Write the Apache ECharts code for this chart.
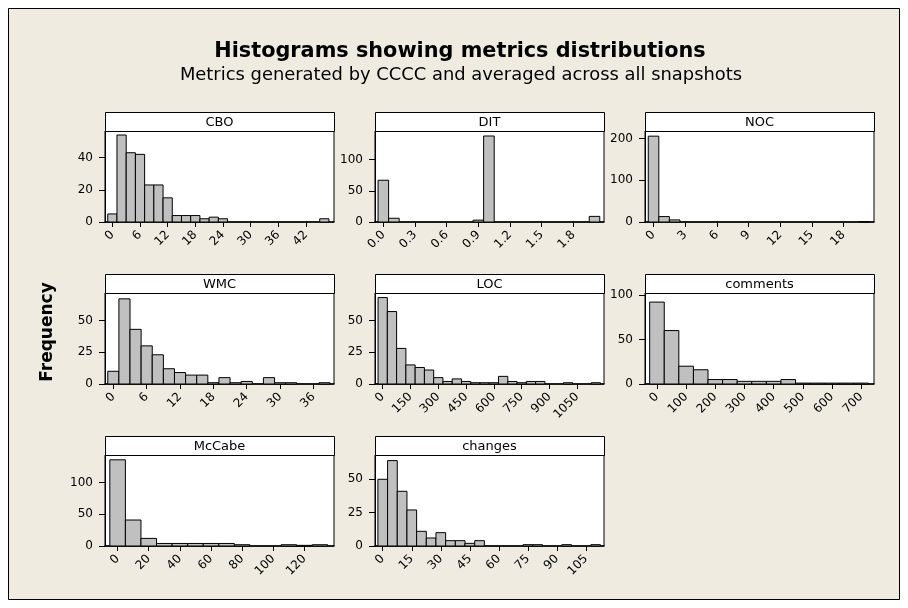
<!DOCTYPE html>
<html><head><meta charset="utf-8">
<script src="https://cdn.jsdelivr.net/npm/echarts@6/dist/echarts.min.js"></script>
<style>html,body{margin:0;padding:0;background:#fff}#c{width:908px;height:608px}</style>
</head><body><div id="c"></div>
<script>
const chartTitle = 'Histograms showing metrics distributions';
const chartSubtitle = 'Metrics generated by CCCC and averaged across all snapshots';
const yAxisTitle = 'Frequency';
const panelNames = ['CBO','DIT','NOC','WMC','LOC','comments','McCabe','changes'];

const cboBins = [0,2,4,6,8,10,12,14,16,18,20,22,24,26,28,30,32,34,36,38,40,42,44,46];
const cboCounts = [5,54,43,42,23,23,15,4,4,4,2,3,2,0,0,0,0,0,0,0,0,0,0,2];
const cboTicks = [0,6,12,18,24,30,36,42];
const cboTickLabels = ['0','6','12','18','24','30','36','42'];
const cboYTicks = [0,20,40];

const ditBins = [0.0,0.1,0.2,0.3,0.4,0.5,0.6,0.7,0.8,0.9,1.0,1.1,1.2,1.3,1.4,1.5,1.6,1.7,1.8,1.9,2.0];
const ditCounts = [67,6,0,0,0,0,0,0,0,3,138,0,0,0,0,0,0,0,0,0,9];
const ditTicks = [0.0,0.3,0.6,0.9,1.2,1.5,1.8];
const ditTickLabels = ['0.0','0.3','0.6','0.9','1.2','1.5','1.8'];
const ditYTicks = [0,50,100];

const nocBins = [0,1,2,3,4,5,6,7,8,9,10,11,12,13,14,15,16,17,18,19,20];
const nocCounts = [206,13,5,0,0,0,0,0,0,0,0,0,0,0,0,0,0,0,0,0,1];
const nocTicks = [0,3,6,9,12,15,18];
const nocTickLabels = ['0','3','6','9','12','15','18'];
const nocYTicks = [0,100,200];

const wmcBins = [0,2,4,6,8,10,12,14,16,18,20,22,24,26,28,30,32,34,36,38];
const wmcCounts = [10,67,43,30,23,12,9,7,7,1,5,1,2,0,5,1,1,0,0,1];
const wmcTicks = [0,6,12,18,24,30,36];
const wmcTickLabels = ['0','6','12','18','24','30','36'];
const wmcYTicks = [0,25,50];

const locBins = [0,50,100,150,200,250,300,350,400,450,500,550,600,650,700,750,800,850,900,950,1000,1050,1100,1150];
const locCounts = [68,57,28,15,13,11,5,2,4,2,1,1,1,6,2,1,2,2,0,0,1,0,0,1];
const locTicks = [0,150,300,450,600,750,900,1050];
const locTickLabels = ['0','150','300','450','600','750','900','1050'];
const locYTicks = [0,25,50];

const comBins = [0,50,100,150,200,250,300,350,400,450,500,550,600,650,700];
const comCounts = [92,60,20,16,5,5,3,3,3,5,1,1,1,1,1];
const comTicks = [0,100,200,300,400,500,600,700];
const comTickLabels = ['0','100','200','300','400','500','600','700'];
const comYTicks = [0,50,100];

const mccBins = [0,10,20,30,40,50,60,70,80,90,100,110,120,130];
const mccCounts = [136,41,12,4,4,4,4,4,2,0,0,2,1,2];
const mccTicks = [0,20,40,60,80,100,120];
const mccTickLabels = ['0','20','40','60','80','100','120'];
const mccYTicks = [0,50,100];

const chgBins = [0,5,10,15,20,25,30,35,40,45,50,55,60,65,70,75,80,85,90,95,100,105,110];
const chgCounts = [50,64,41,27,11,6,10,4,4,2,4,0,0,0,0,1,1,0,0,1,0,0,1];
const chgTicks = [0,15,30,45,60,75,90,105];
const chgTickLabels = ['0','15','30','45','60','75','90','105'];
const chgYTicks = [0,25,50];

const FONT = 'DejaVu Sans';
const panels = [
  {bins:cboBins, counts:cboCounts, bw:2,   xr:[-1.6,48.1],  ymax:56.5,  ticks:cboTicks, labels:cboTickLabels, yticks:cboYTicks},
  {bins:ditBins, counts:ditCounts, bw:0.1, xr:[-0.079,2.09],ymax:146,   ticks:ditTicks, labels:ditTickLabels, yticks:ditYTicks},
  {bins:nocBins, counts:nocCounts, bw:1,   xr:[-0.81,20.9], ymax:218.4, ticks:nocTicks, labels:nocTickLabels, yticks:nocYTicks},
  {bins:wmcBins, counts:wmcCounts, bw:2,   xr:[-1.5,39.7],  ymax:71.6,  ticks:wmcTicks, labels:wmcTickLabels, yticks:wmcYTicks},
  {bins:locBins, counts:locCounts, bw:50,  xr:[-41.6,1194], ymax:71.6,  ticks:locTicks, labels:locTickLabels, yticks:locYTicks},
  {bins:comBins, counts:comCounts, bw:50,  xr:[-41,744],    ymax:102.2, ticks:comTicks, labels:comTickLabels, yticks:comYTicks},
  {bins:mccBins, counts:mccCounts, bw:10,  xr:[-8.1,139],   ymax:143.6, ticks:mccTicks, labels:mccTickLabels, yticks:mccYTicks},
  {bins:chgBins, counts:chgCounts, bw:5,   xr:[-4,114.3],   ymax:68.2,  ticks:chgTicks, labels:chgTickLabels, yticks:chgYTicks}
];

const colLeft = [105, 375, 645];
const rowTop = [112, 274, 436];
const PW = 229, HH = 19, PH = 91;

const grids = [], xAxes = [], yAxes = [], series = [];
const graphics = [
  {type:'rect', z:-10, silent:true, shape:{x:8.5, y:8.5, width:891, height:591}, style:{fill:'#efebe0', stroke:'#000', lineWidth:1}},
  {type:'text', z:10, style:{text:chartTitle, x:460, y:52, align:'center', verticalAlign:'middle', font:'bold 20.8px "DejaVu Sans"', fill:'#000'}},
  {type:'text', z:10, style:{text:chartSubtitle, x:461, y:75, align:'center', verticalAlign:'middle', font:'17.9px "DejaVu Sans"', fill:'#000'}},
  {type:'text', z:10, rotation:Math.PI/2, x:48, y:332, style:{text:yAxisTitle, x:0, y:0, align:'center', verticalAlign:'middle', font:'bold 17px "DejaVu Sans"', fill:'#000'}}
];

function nearestLabel(ticks, labels, v){
  let bi = 0, bd = Infinity;
  ticks.forEach((t,i)=>{ const d = Math.abs(t - v); if (d < bd){ bd = d; bi = i; } });
  return labels[bi];
}

function makeRender(bw){
  return function(params, api){
    const c = api.value(0), n = api.value(1);
    if (!n) return null;
    const p0 = api.coord([c - bw/2, n]);
    const p1 = api.coord([c + bw/2, 0]);
    return {type:'rect', shape:{x:p0[0], y:p0[1], width:p1[0]-p0[0], height:p1[1]-p0[1]},
            style:{fill:'#c0c0c0', stroke:'#000', lineWidth:1}};
  };
}

panels.forEach((p, i) => {
  const col = i % 3, row = Math.floor(i / 3);
  const left = colLeft[col], top = rowTop[row];
  grids.push({left:left, top:top + HH, width:PW, height:PH, show:true, backgroundColor:'#fff',
              borderColor:'#000', borderWidth:1, containLabel:false, outerBoundsMode:'none'});
  xAxes.push({type:'value', gridIndex:i, min:p.xr[0], max:p.xr[1],
    axisLine:{show:true, onZero:false, lineStyle:{color:'#000', width:1.5}},
    axisTick:{show:true, inside:false, length:5, lineStyle:{color:'#000', width:1}, customValues:p.ticks},
    axisLabel:{show:true, rotate:45, margin:11, fontSize:12, fontFamily:FONT, color:'#000',
      customValues:p.ticks, formatter:(v)=>nearestLabel(p.ticks, p.labels, v)},
    splitLine:{show:false}});
  yAxes.push({type:'value', gridIndex:i, min:0, max:p.ymax,
    axisLine:{show:true, onZero:false, lineStyle:{color:'#000', width:1}},
    axisTick:{show:true, inside:false, length:6, lineStyle:{color:'#000', width:1}, customValues:p.yticks},
    axisLabel:{show:true, margin:12, fontSize:12, fontFamily:FONT, color:'#000', customValues:p.yticks},
    splitLine:{show:false}});
  series.push({type:'custom', xAxisIndex:i, yAxisIndex:i, renderItem:makeRender(p.bw),
    data:p.bins.map((b,k)=>[b, p.counts[k]]), encode:{x:0, y:1}, silent:true, animation:false});
  graphics.push({type:'rect', z:10, shape:{x:left + 0.5, y:top + 0.5, width:PW, height:HH}, style:{fill:'#fff', stroke:'#000', lineWidth:1}});
  graphics.push({type:'text', z:11, style:{text:panelNames[i], x:left + PW/2, y:top + HH/2 + 1, align:'center', verticalAlign:'middle', font:'13px "DejaVu Sans"', fill:'#000'}});
});

const chart = echarts.init(document.getElementById('c'), null, {renderer:'canvas'});
chart.setOption({animation:false, backgroundColor:'#fff', grid:grids, xAxis:xAxes, yAxis:yAxes, series:series, graphic:graphics});
</script></body></html>
